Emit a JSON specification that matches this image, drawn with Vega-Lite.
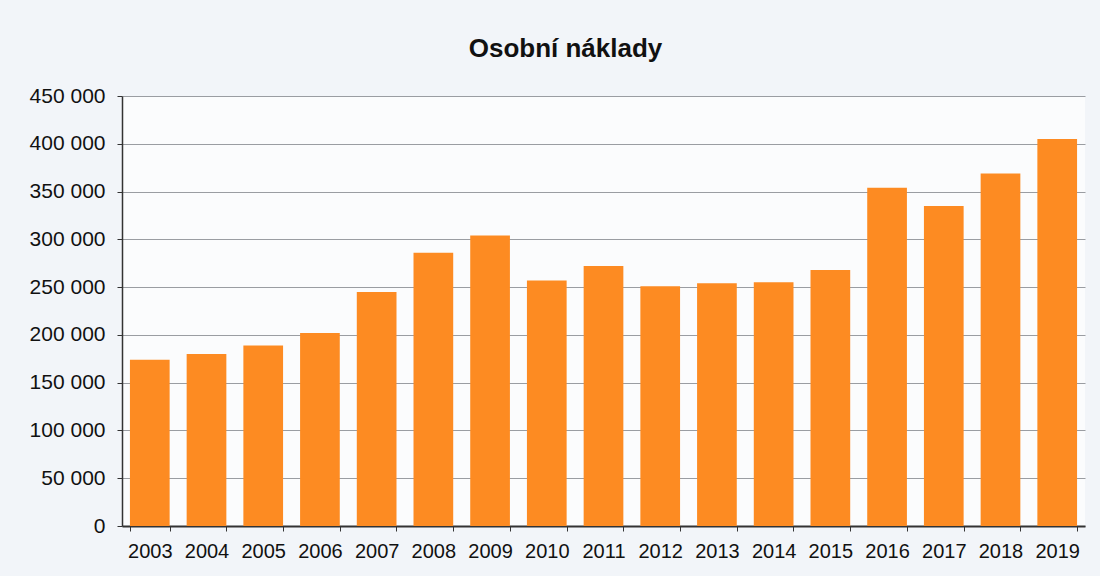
{
  "$schema": "https://vega.github.io/schema/vega-lite/v6.json",
  "autosize": "none",
  "width": 963,
  "height": 430,
  "padding": {"left": 122, "top": 96, "right": 15, "bottom": 50},
  "background": "#f2f5f9",
  "title": {"text": "Osobní náklady", "font": "Liberation Sans", "fontSize": 26, "fontWeight": "bold", "color": "#111111", "anchor": "middle", "dx": -38, "offset": 23},
  "config": {
    "view": {"stroke": null, "fill": "#fbfcfd"},
    "axis": {"labelFont": "Liberation Sans", "labelColor": "#111111", "domainColor": "#333333", "tickColor": "#333333", "titleFont": "Liberation Sans"}
  },
  "data": {"values": [
    {"rok": "2003", "hodnota": 174000},
    {"rok": "2004", "hodnota": 180000},
    {"rok": "2005", "hodnota": 189000},
    {"rok": "2006", "hodnota": 202000},
    {"rok": "2007", "hodnota": 245000},
    {"rok": "2008", "hodnota": 286000},
    {"rok": "2009", "hodnota": 304000},
    {"rok": "2010", "hodnota": 257000},
    {"rok": "2011", "hodnota": 272000},
    {"rok": "2012", "hodnota": 251000},
    {"rok": "2013", "hodnota": 254000},
    {"rok": "2014", "hodnota": 255000},
    {"rok": "2015", "hodnota": 268000},
    {"rok": "2016", "hodnota": 354000},
    {"rok": "2017", "hodnota": 335000},
    {"rok": "2018", "hodnota": 369000},
    {"rok": "2019", "hodnota": 405000}
  ]},
  "mark": {"type": "bar", "color": "#fd8b22"},
  "encoding": {
    "x": {
      "field": "rok", "type": "ordinal", "title": null,
      "scale": {"paddingInner": 0.3, "paddingOuter": 0.14},
      "axis": {"labelAngle": 0, "labelFontSize": 20, "labelPadding": 10, "tickBand": "extent", "tickSize": 5, "domainWidth": 2, "grid": false}
    },
    "y": {
      "field": "hodnota", "type": "quantitative", "title": null,
      "scale": {"domain": [0, 450000], "nice": false},
      "axis": {"values": [0, 50000, 100000, 150000, 200000, 250000, 300000, 350000, 400000, 450000], "labelExpr": "replace(format(datum.value, ','), ',', ' ')", "labelFontSize": 21, "labelPadding": 12, "tickSize": 5, "domainWidth": 1.5, "grid": true, "gridColor": "#9a9da2", "gridWidth": 1.2}
    }
  }
}
